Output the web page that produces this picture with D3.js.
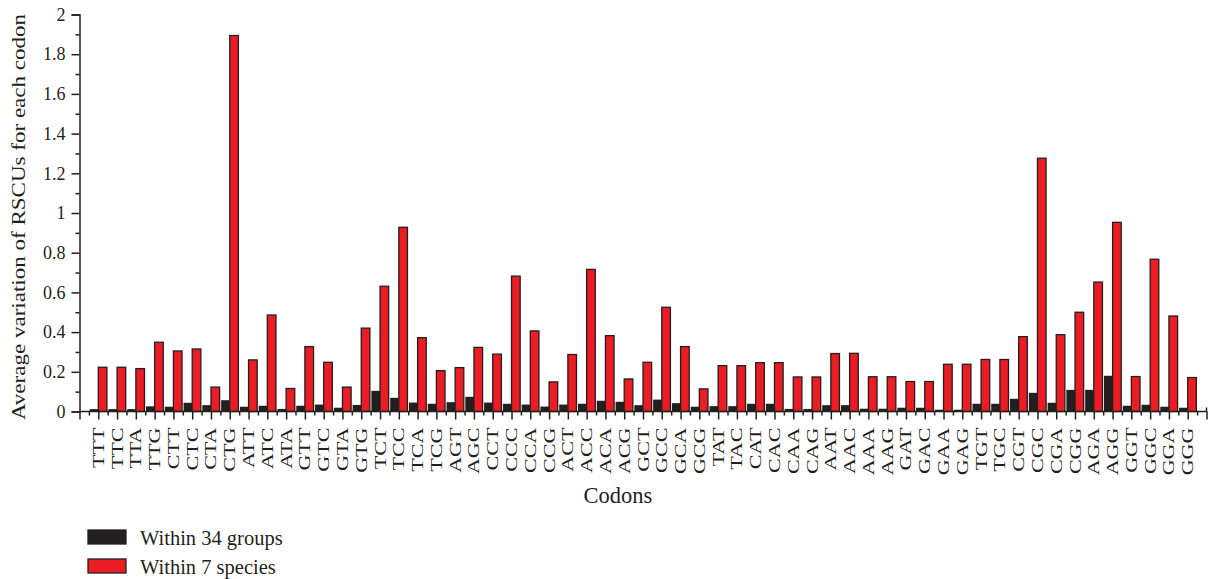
<!DOCTYPE html>
<html>
<head>
<meta charset="utf-8">
<script src="https://cdn.jsdelivr.net/npm/d3@7"></script>
<style>
  body { margin: 0; background: #fff; }
</style>
</head>
<body>
<div id="chart"></div>
<script>
var codons = ["TTT","TTC","TTA","TTG","CTT","CTC","CTA","CTG","ATT","ATC",
    "ATA","GTT","GTC","GTA","GTG","TCT","TCC","TCA","TCG","AGT",
    "AGC","CCT","CCC","CCA","CCG","ACT","ACC","ACA","ACG","GCT",
    "GCC","GCA","GCG","TAT","TAC","CAT","CAC","CAA","CAG","AAT",
    "AAC","AAA","AAG","GAT","GAC","GAA","GAG","TGT","TGC","CGT",
    "CGC","CGA","CGG","AGA","AGG","GGT","GGC","GGA","GGG"];

// within 34 groups
var groups34 = [0.012,0.012,0.012,0.026,0.024,0.044,0.032,0.057,0.024,0.029,
    0.013,0.029,0.035,0.019,0.033,0.104,0.069,0.045,0.039,0.047,
    0.074,0.045,0.039,0.035,0.025,0.035,0.039,0.054,0.049,0.032,
    0.060,0.042,0.024,0.027,0.027,0.039,0.039,0.013,0.013,0.032,
    0.032,0.014,0.014,0.019,0.019,0.009,0.009,0.039,0.039,0.064,
    0.094,0.044,0.109,0.109,0.180,0.029,0.034,0.024,0.019];

// within 7 species
var species7 = [0.223,0.223,0.216,0.349,0.305,0.315,0.123,1.894,0.260,0.486,
    0.116,0.327,0.248,0.123,0.420,0.631,0.928,0.372,0.206,0.221,
    0.323,0.289,0.682,0.406,0.149,0.287,0.716,0.382,0.164,0.248,
    0.525,0.327,0.114,0.231,0.231,0.246,0.246,0.174,0.174,0.292,
    0.293,0.175,0.175,0.151,0.151,0.238,0.238,0.262,0.262,0.377,
    1.276,0.387,0.500,0.652,0.953,0.176,0.767,0.481,0.171];

var yTicks = [0, 0.2, 0.4, 0.6, 0.8, 1, 1.2, 1.4, 1.6, 1.8, 2];
var seriesNames = ["Within 34 groups", "Within 7 species"];
var seriesColors = ["#231f20", "#ec1c24"];

var width = 1210, height = 579;
var margin = {left: 79.5, right: 3.5, top: 14.5, bottom: 167.5};
var serif = '"Liberation Serif", "Times New Roman", serif';
var axisColor = "#231f20";

var svg = d3.select("#chart").append("svg")
    .attr("width", width)
    .attr("height", height);

//categories sit on integer positions 1..59 of a 0..60 axis
var x = d3.scaleLinear().domain([0, codons.length + 1]).range([margin.left, width - margin.right]);
var y = d3.scaleLinear().domain([0, 2]).range([height - margin.bottom, margin.top]);
var barW = x(0.46) - x(0);

// bars
var g = svg.append("g");
g.selectAll(".b34").data(groups34).enter().append("rect")
    .attr("x", function(d, i) { return x(i + 1) - barW; })
    .attr("y", function(d) { return y(d); })
    .attr("width", barW)
    .attr("height", function(d) { return y(0) - y(d); })
    .attr("fill", seriesColors[0]);

g.selectAll(".b7").data(species7).enter().append("rect")
    .attr("x", function(d, i) { return x(i + 1); })
    .attr("y", function(d) { return y(d); })
    .attr("width", barW)
    .attr("height", function(d) { return y(0) - y(d); })
    .attr("fill", seriesColors[1])
    .attr("stroke", axisColor)
    .attr("stroke-width", 1.3);

// y axis
var yAxis = d3.axisLeft(y).tickValues(yTicks).tickSize(8).tickPadding(6)
    .tickFormat(function(d) { return String(+d.toFixed(1)); });
var ya = svg.append("g").attr("transform", "translate(" + margin.left + ",0)").call(yAxis);
ya.select(".domain").attr("stroke", axisColor).attr("stroke-width", 1.5);
ya.selectAll(".tick line").attr("stroke", axisColor).attr("stroke-width", 1.5);
ya.selectAll(".tick text")
    .style("font-family", serif)
    .style("font-size", "18px")
    .attr("fill", axisColor);

var yMinor = d3.axisLeft(y).tickValues(d3.range(0.1, 2, 0.2)).tickSize(4).tickFormat("");
var ym = svg.append("g").attr("transform", "translate(" + margin.left + ",0)").call(yMinor);
ym.select(".domain").remove();
ym.selectAll(".tick line").attr("stroke", axisColor).attr("stroke-width", 1.5);

// x axis
var xAxis = d3.axisBottom(x).tickValues(d3.range(0, codons.length + 2)).tickSize(8).tickFormat("");
var xa = svg.append("g").attr("transform", "translate(0," + y(0) + ")").call(xAxis);
xa.select(".domain").attr("stroke", axisColor).attr("stroke-width", 1.5).attr("d",
    "M" + x(0) + ",0H" + x(codons.length + 1) + "V-4");
xa.selectAll(".tick line").attr("stroke", axisColor).attr("stroke-width", 1.5);

var xMinor = d3.axisBottom(x).tickValues(d3.range(0.5, codons.length + 1, 1)).tickSize(4).tickFormat("");
var xm = svg.append("g").attr("transform", "translate(0," + y(0) + ")").call(xMinor);
xm.select(".domain").remove();
xm.selectAll(".tick line").attr("stroke", axisColor).attr("stroke-width", 1.5);

// codon labels, rotated
svg.append("g").selectAll("text").data(codons).enter().append("text")
    .attr("transform", function(d, i) {
        return "translate(" + (x(i + 1) + 5.5) + "," + (y(0) + 16) + ") rotate(-90) scale(1.38,1)";
    })
    .attr("text-anchor", "end")
    .style("font-family", serif)
    .style("font-size", "16px")
    .attr("fill", axisColor)
    .text(function(d) { return d; });

// axis titles
svg.append("text")
    .attr("transform", "translate(25," + ((y(0) + y(2)) / 2 + 4) + ") rotate(-90) scale(1.28,1)")
    .attr("text-anchor", "middle")
    .style("font-family", serif)
    .style("font-size", "18px")
    .attr("fill", axisColor)
    .text("Average variation of RSCUs for each codon");

svg.append("text")
    .attr("x", 618)
    .attr("y", 503)
    .attr("text-anchor", "middle")
    .style("font-family", serif)
    .style("font-size", "22.5px")
    .attr("fill", axisColor)
    .text("Codons");

// legend
var legend = svg.append("g").selectAll("g").data(seriesNames).enter().append("g")
    .attr("transform", function(d, i) { return "translate(88," + (530 + i * 29) + ")"; });
legend.append("rect")
    .attr("width", 38)
    .attr("height", 14)
    .attr("fill", function(d, i) { return seriesColors[i]; })
    .attr("stroke", axisColor)
    .attr("stroke-width", 1.3);
legend.append("text")
    .attr("x", 52)
    .attr("y", 15)
    .style("font-family", serif)
    .style("font-size", "20.5px")
    .attr("fill", axisColor)
    .text(function(d) { return d; });
</script>
</body>
</html>
